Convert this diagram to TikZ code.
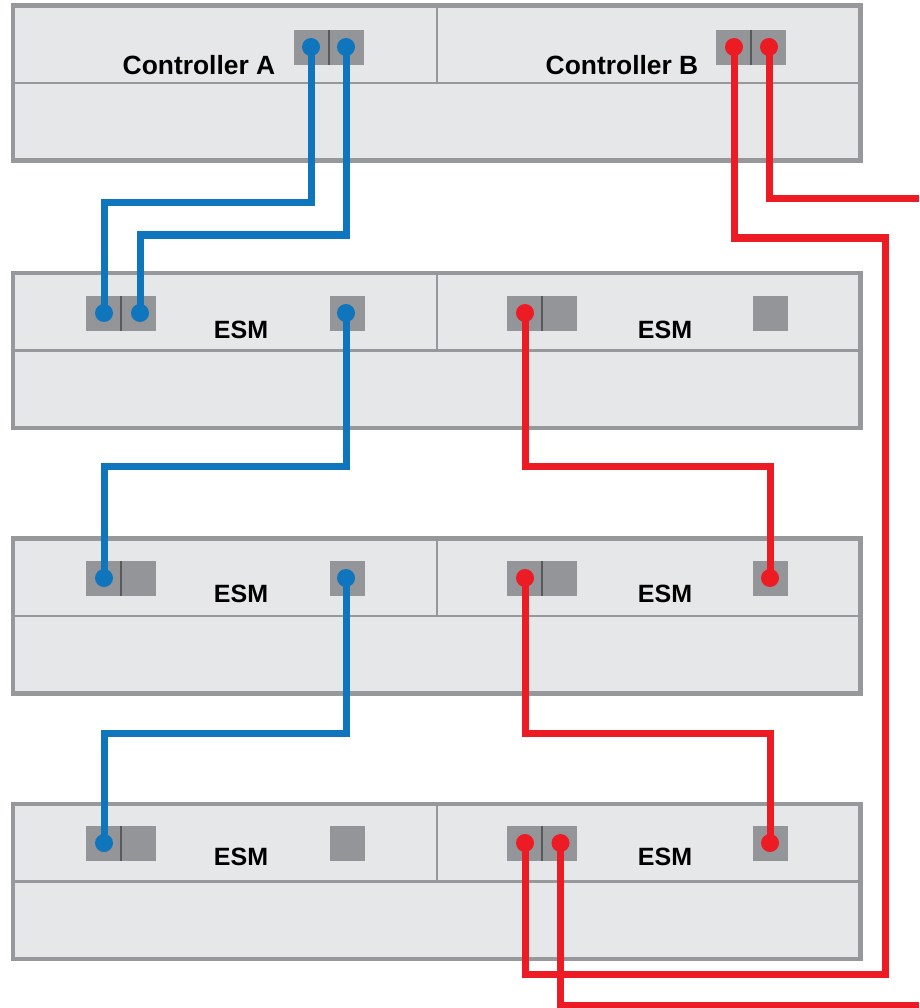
\documentclass[tikz,border=0pt]{standalone}
\usepackage{fontspec}
\setmainfont{Liberation Sans}
\usepackage{xcolor}
\definecolor{shelfgray}{HTML}{E6E7E9}
\definecolor{edgegray}{HTML}{97989B}
\definecolor{portgray}{HTML}{939598}
\definecolor{sepgray}{HTML}{58595B}
\definecolor{wireblue}{HTML}{0F75BC}
\definecolor{wirered}{HTML}{ED1C24}

\begin{document}
\begin{tikzpicture}[
    x=1pt, y=-1pt,
    shelf/.style     ={draw=edgegray, line width=4.5pt, fill=shelfgray, minimum width=847.5pt,
                       minimum height=155pt, inner sep=0pt},
    split/.style     ={edgegray, line width=2.5pt},
    label/.style     ={font=\bfseries\fontsize{25}{25}\selectfont, text=black, inner sep=0pt},
    ctrllabel/.style ={label, font=\bfseries\fontsize{26.4}{26.4}\selectfont},
    duoport/.style   ={fill=portgray, minimum width=70pt, minimum height=35pt, inner sep=0pt},
    uniport/.style   ={fill=portgray, minimum width=35pt, minimum height=35pt, inner sep=0pt},
    portsep/.style   ={sepgray, line width=2pt},
    bluedot/.style   ={circle, fill=wireblue, minimum size=18pt, inner sep=0pt},
    reddot/.style    ={circle, fill=wirered, minimum size=18pt, inner sep=0pt},
    bluewire/.style  ={wireblue, line width=7pt},
    redwire/.style   ={wirered, line width=7pt}
]
\useasboundingbox (0,0) rectangle (919,1008);

% Shelves, top to bottom
\node[shelf] (ctrl)   at (436.75,83) {};
\node[shelf] (shelfa) at (436.75,350.5) {};
\node[shelf] (shelfb) at (436.75,616) {};
\node[shelf] (shelfc) at (436.75,881.5) {};

% Inner lines of each shelf
\draw[split] (ctrl.west)   -- (ctrl.east);
\draw[split] (shelfa.west) -- (shelfa.east);
\draw[split] (shelfb.west) -- (shelfb.east);
\draw[split] (shelfc.west) -- (shelfc.east);
\draw[split] (ctrl.north)   -- (ctrl.center);
\draw[split] (shelfa.north) -- (shelfa.center);
\draw[split] (shelfb.north) -- (shelfb.center);
\draw[split] (shelfc.north) -- (shelfc.center);

% Labels
\node[ctrllabel] (lblca) at (199,65) {Controller A};
\node[ctrllabel] (lblcb) at (622,65) {Controller B};
\node[label] (lbla1) at (241,330) {ESM};
\node[label] (lbla2) at (665,330) {ESM};
\node[label] (lblb1) at (241,594) {ESM};
\node[label] (lblb2) at (665,594) {ESM};
\node[label] (lblc1) at (241,857) {ESM};
\node[label] (lblc2) at (665,857) {ESM};

% Ports
\node[duoport] (pca) at (328.5,47.5) {};
\node[duoport] (pcb) at (751,47.5) {};
\node[duoport] (pa1) at (121,313.5) {};
\node[uniport] (pa2) at (347,313.5) {};
\node[duoport] (pa3) at (542,313.5) {};
\node[uniport] (pa4) at (770,313.5) {};
\node[duoport] (pb1) at (121,578.5) {};
\node[uniport] (pb2) at (347,578.5) {};
\node[duoport] (pb3) at (542,578.5) {};
\node[uniport] (pb4) at (770,578.5) {};
\node[duoport] (pc1) at (121,843.5) {};
\node[uniport] (pc2) at (347,843.5) {};
\node[duoport] (pc3) at (542,843.5) {};
\node[uniport] (pc4) at (770,843.5) {};
\draw[portsep] (pca.north) -- (pca.south);
\draw[portsep] (pcb.north) -- (pcb.south);
\draw[portsep] (pa1.north) -- (pa1.south);
\draw[portsep] (pa3.north) -- (pa3.south);
\draw[portsep] (pb1.north) -- (pb1.south);
\draw[portsep] (pb3.north) -- (pb3.south);
\draw[portsep] (pc1.north) -- (pc1.south);
\draw[portsep] (pc3.north) -- (pc3.south);

% Cable ends
\node[bluedot] (ca1) at (311,47) {};
\node[bluedot] (ca2) at (346,47) {};
\node[reddot]  (cb1) at (734,47) {};
\node[reddot]  (cb2) at (769,47) {};
\node[bluedot] (a1)  at (104,313) {};
\node[bluedot] (a2)  at (140,313) {};
\node[bluedot] (a3)  at (346,313) {};
\node[reddot]  (a4)  at (525,313) {};
\node[bluedot] (b1)  at (104,578) {};
\node[bluedot] (b2)  at (346,578) {};
\node[reddot]  (b3)  at (525,578) {};
\node[reddot]  (b4)  at (770,578) {};
\node[bluedot] (c1)  at (104,843) {};
\node[reddot]  (c2)  at (525,843) {};
\node[reddot]  (c3)  at (560.5,843) {};
\node[reddot]  (c4)  at (770,843) {};

% Points the red cables pass through or leave by
\coordinate (loopa) at (885,238);
\coordinate (loopb) at (885,974);
\coordinate (exita) at (919,199);
\coordinate (exitb) at (919,1005);

% Blue cables
\draw[bluewire] (ca1.center) -- ++(0,156) -| (a1.center);
\draw[bluewire] (ca2.center) -- ++(0,188) -| (a2.center);
\draw[bluewire] (a3.center)  -- ++(0,153) -| (b1.center);
\draw[bluewire] (b2.center)  -- ++(0,155) -| (c1.center);

% Red cables
\draw[redwire] (cb1.center) |- (loopa) -- (loopb) -| (c2.center);
\draw[redwire] (cb2.center) |- (exita);
\draw[redwire] (a4.center)  -- ++(0,153) -| (b4.center);
\draw[redwire] (b3.center)  -- ++(0,155) -| (c4.center);
\draw[redwire] (c3.center)  |- (exitb);

\end{tikzpicture}
\end{document}
